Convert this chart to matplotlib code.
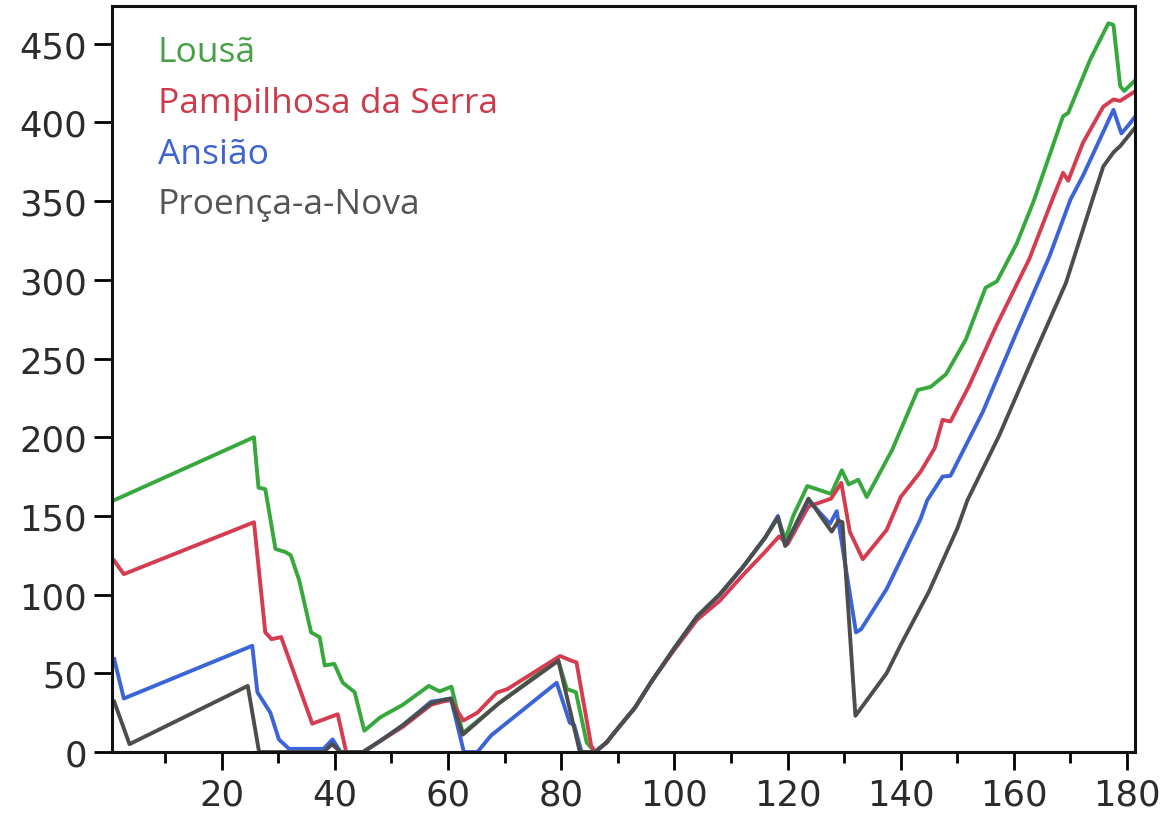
import matplotlib
matplotlib.use('Agg')
from matplotlib import pyplot as plt

# Lousã
lousa_x = [1, 25.7, 26.5, 27.7, 29.5, 31.3, 32.2, 33.7, 35.8, 37.3, 38.2, 39.9, 41.4, 43.5, 45.2,
           48, 52, 56.6, 58.5, 60.6, 62.6, 69, 79.4, 81, 82.6, 84.5, 86,
           88, 90, 93, 96, 100, 104, 108, 112, 116, 118.3, 119.6, 121, 123.5, 127.7, 129.6, 130.8,
           132.5, 134, 138.5, 143, 145.3, 148, 151.5, 155, 157, 160.5, 163.5, 168.7, 169.6,
           173.5, 176.7, 177.6, 178.8, 179.5, 181.5]
lousa_y = [160, 200, 168, 167, 129, 127, 125, 109, 76, 73, 55, 56, 44, 38, 13.5,
           22, 30, 42, 38.5, 41.5, 12, 31, 59, 40, 38, 6, 0,
           6, 15, 28, 45, 66, 86, 100, 117, 136, 149, 135, 150, 169, 164, 179, 170,
           173, 162, 192, 230, 232, 240, 262, 295, 299, 323, 350, 404, 406,
           440, 463, 462, 423, 420, 427]

# Pampilhosa da Serra
pamp_x = [1, 2.7, 25.7, 26.5, 27.7, 28.8, 30.5, 36, 40.5, 42, 45, 48, 52, 57, 59, 60.5,
          62.7, 65.2, 68.6, 70.5, 79.8, 81.8, 82.7, 85.3, 86,
          88, 90, 93, 96, 100, 104, 108, 112, 116, 118.5, 120, 123.7, 127.7, 129.5, 131,
          133.3, 137.5, 140, 143.5, 146, 147.4, 148.8, 152, 156.8, 162.7, 166.8, 168.7,
          169.6, 172.2, 175.8, 177.6, 178.8, 181.5]
pamp_y = [121.5, 113, 146, 118, 76, 71.7, 73, 18, 24, 0, 0, 7, 16, 30, 32, 33,
          20, 25, 37.7, 40, 61, 58, 57, 4, 0,
          6, 15, 28, 45, 65, 84, 96, 112, 127, 137, 132, 156, 161, 171, 140,
          122.5, 141, 162, 178, 193, 211, 210, 232, 270, 313, 351, 368,
          363, 387, 410, 414.6, 413.7, 420]

# Ansião
ansiao_x = [1, 2.7, 25.4, 26.3, 28.6, 30.1, 31.9, 38, 39.6, 41, 45, 48, 52, 57, 59, 60.5,
            62.8, 65.2, 67.6, 79.2, 81.5, 82.3, 83.6, 86,
            88, 90, 93, 96, 100, 104, 108, 112, 116, 118.3, 119.6, 123.7, 127.5, 128.7,
            132.1, 133, 137.5, 143.5, 144.7, 147.4, 148.8, 154.5, 160.4, 166.3, 170,
            172.2, 177.6, 179, 180.2, 181.5]
ansiao_y = [59, 34, 67.5, 38, 25, 8, 2, 2, 8, 0, 0, 7, 17, 32, 33, 34,
            0, 0, 10.5, 44, 18.7, 17, 0, 0,
            6, 15, 28, 45, 66, 86, 100, 117, 136, 150, 131, 160, 145, 153,
            76, 78, 103.5, 148, 160, 175, 175.5, 216, 266, 315, 351,
            366, 408, 393, 398, 404]

# Proença-a-Nova
proenca_x = [1, 3.7, 24.6, 26.6, 38, 39.5, 41, 45, 48, 52, 57, 59, 60.5, 62.6, 69, 79.5,
             81, 83.3, 86, 88, 90, 93, 96, 100, 104, 108, 112, 116, 118.3, 119.6, 123.7,
             127.8, 129, 129.7, 132, 137.5, 140, 145, 150, 151.8, 157.4, 163.3, 169.2,
             173.9, 175.8, 177.6, 178.8, 181.5]
proenca_y = [32, 5, 42, 0, 0, 5, 0, 0, 7, 17, 31, 33, 34, 11, 31, 58,
             35, 0, 0, 6, 15, 28, 45, 66, 86, 100, 117, 136, 149, 131, 161,
             140, 147, 146, 23, 50, 68, 102, 142, 160, 201, 250, 298,
             351, 372, 381, 385, 397]

names = ['Lousã', 'Pampilhosa da Serra', 'Ansião', 'Proença-a-Nova']
line_colors = ['#37a93c', '#d63c50', '#3b64d8', '#4d4d4d']
text_colors = ['#47a047', '#cc3b4c', '#3d64cf', '#555555']
series = [(lousa_x, lousa_y), (pamp_x, pamp_y), (ansiao_x, ansiao_y), (proenca_x, proenca_y)]

fig = plt.figure(figsize=(11.65, 8.2), dpi=100)
ax = fig.add_axes([0.0961, 0.0817, 0.8781, 0.9098])

for (xs, ys), c in zip(series, line_colors):
    ax.plot(xs, ys, color=c, linewidth=2.8, solid_joinstyle='round')

ax.set_xlim(0.6, 181.4)
ax.set_ylim(0, 474)

ax.set_xticks(range(20, 181, 20))
ax.set_xticks(range(10, 171, 20), minor=True)
ax.set_yticks(range(0, 451, 50))
ax.tick_params(axis='both', which='major', direction='out', length=13, width=2,
               labelsize=25.5, labelcolor='#2b2b2b', pad=5)
ax.tick_params(axis='x', which='minor', direction='out', length=8, width=2)

for sp in ax.spines.values():
    sp.set_linewidth(2.2)
    sp.set_color('#111111')

# legend as coloured text lines
baselines = [0.926, 0.858, 0.79, 0.7225]
for name, c, yb in zip(names, text_colors, baselines):
    ax.text(0.045, yb, name, transform=ax.transAxes, color=c, fontsize=25.5,
            family='Open Sans', va='baseline', ha='left')

fig.savefig('out.png', dpi=100)
